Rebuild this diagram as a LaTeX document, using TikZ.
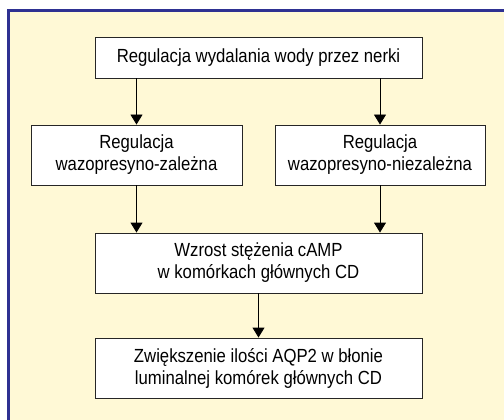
\documentclass[tikz,border=0pt]{standalone}
\usepackage{fontspec}
\setmainfont{Liberation Sans}[FakeStretch=0.88]
\usetikzlibrary{arrows.meta}
\definecolor{tlo}{RGB}{255,249,214}
\definecolor{ramka}{RGB}{46,49,146}
\tikzset{
  blok/.style={draw=black!85, fill=white, line width=0.9pt, align=center,
    inner sep=0pt, font=\fontsize{19}{22}\selectfont},
  strz/.style={line width=0.9pt, -{Triangle[width=12pt,length=10pt]}}
}
\begin{document}
\begin{tikzpicture}[x=1pt, y=-1pt]
            \useasboundingbox (0,0) rectangle (504,420);
            \fill [white] (0,0) rectangle (504,420);
            \fill [tlo] (8.5,10.5) rectangle (504,420);
            \draw [ramka, line width=3pt] (8.5,420) -- (8.5,10.5) -- (504,10.5);
            \node [blok, minimum width=327pt, minimum height=41pt] (wydalanie) at (258.5,57.5)
                {Regulacja wydalania wody przez nerki};
            \node [blok, minimum width=211pt, minimum height=60pt] (zalezna) at (136.5,155)
                {Regulacja\\wazopresyno-zależna};
            \node [blok, minimum width=210pt, minimum height=60pt] (niezalezna) at (380,155)
                {Regulacja\\wazopresyno-niezależna};
            \node [blok, minimum width=327pt, minimum height=60pt] (camp) at (258.5,263)
                {Wzrost stężenia cAMP\\w komórkach głównych CD};
            \node [blok, minimum width=327pt, minimum height=60pt] (aqp) at (258.5,368)
                {Zwiększenie ilości AQP2 w błonie\\luminalnej komórek głównych CD};
            \draw [strz] (zalezna.north |- wydalanie.south) -- (zalezna.north);
            \draw [strz] (niezalezna.north |- wydalanie.south) -- (niezalezna.north);
            \draw [strz] (zalezna.south) -- (zalezna.south |- camp.north);
            \draw [strz] (niezalezna.south) -- (niezalezna.south |- camp.north);
            \draw [strz] (camp) -- (aqp);
\end{tikzpicture}
\end{document}
